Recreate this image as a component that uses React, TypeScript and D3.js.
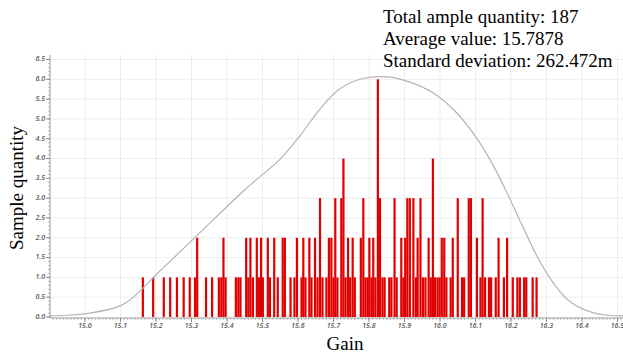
import React from 'react';
import * as d3 from 'd3';

const gains = [
  15.163, 15.192, 15.222, 15.240, 15.259, 15.278, 15.295, 15.310, 15.316, 15.341,
  15.358, 15.377, 15.384, 15.390, 15.396, 15.425, 15.432, 15.438, 15.454, 15.460,
  15.466, 15.473, 15.484, 15.490, 15.496, 15.501, 15.515, 15.521, 15.533, 15.543,
  15.557, 15.563, 15.579, 15.590, 15.597, 15.610, 15.615, 15.621, 15.632, 15.638,
  15.648, 15.655, 15.662, 15.669, 15.680, 15.687, 15.694, 15.700, 15.705, 15.711,
  15.722, 15.728, 15.734, 15.741, 15.747, 15.754, 15.760, 15.777, 15.784, 15.790,
  15.796, 15.801, 15.807, 15.812, 15.818, 15.825, 15.831, 15.838, 15.844, 15.857,
  15.863, 15.872, 15.878, 15.891, 15.897, 15.902, 15.908, 15.915, 15.925, 15.932,
  15.937, 15.945, 15.952, 15.959, 15.968, 15.974, 15.980, 15.986, 15.993, 15.999,
  16.005, 16.012, 16.018, 16.030, 16.036, 16.050, 16.062, 16.068, 16.081, 16.087,
  16.104, 16.114, 16.120, 16.127, 16.138, 16.144, 16.157, 16.165, 16.180, 16.189,
  16.205, 16.218, 16.225, 16.237, 16.243, 16.261, 16.272,
];
const counts = [
  1, 1, 1, 1, 1, 1, 1, 1, 2, 1,
  1, 1, 1, 2, 1, 1, 1, 1, 2, 1,
  2, 1, 2, 1, 2, 1, 2, 1, 2, 1,
  2, 2, 1, 1, 2, 1, 2, 1, 2, 1,
  2, 1, 3, 1, 1, 2, 2, 1, 3, 1,
  3, 4, 1, 2, 1, 2, 1, 2, 3, 1,
  1, 2, 1, 2, 1, 6, 3, 1, 1, 1,
  1, 3, 1, 2, 1, 2, 3, 3, 3, 1,
  2, 3, 1, 1, 2, 1, 4, 1, 1, 1,
  2, 2, 1, 1, 2, 3, 1, 1, 3, 3,
  2, 1, 3, 1, 1, 1, 1, 2, 1, 2,
  1, 1, 1, 1, 1, 1, 1,
];

const curveGain = [
  14.90, 14.96, 15.014, 15.09, 15.127, 15.211, 15.31, 15.451, 15.549, 15.606,
  15.662, 15.718, 15.783, 15.851, 15.915, 15.98, 16.042, 16.099, 16.146, 16.189,
  16.231, 16.273, 16.315, 16.358, 16.408, 16.465, 16.52,
];
const curveValue = [
  0.03, 0.05, 0.10, 0.25, 0.43, 1.16, 2.01, 3.22, 3.98, 4.58,
  5.25, 5.76, 6.02, 6.06, 5.93, 5.66, 5.20, 4.57, 3.89, 3.13,
  2.32, 1.54, 0.91, 0.45, 0.18, 0.05, 0.03,
];

const xTicks = [15.0, 15.1, 15.2, 15.3, 15.4, 15.5, 15.6, 15.7, 15.8, 15.9, 16.0, 16.1, 16.2, 16.3, 16.4, 16.5];
const yTicks = [0, 0.5, 1, 1.5, 2, 2.5, 3, 3.5, 4, 4.5, 5, 5.5, 6, 6.5];
const statLines = [
  'Total ample quantity: 187',
  'Average value: 15.7878',
  'Standard deviation: 262.472m',
];
const xTitle = 'Gain';
const yTitle = 'Sample quantity';

export default function App() {
  const W = 623;
  const H = 355;
  const x = d3.scaleLinear().domain([14.9, 16.6]).range([49.5, 653]);
  const y = d3.scaleLinear().domain([0, 6.5]).range([317, 59.5]);
  const plotLeft = 50;
  const plotRight = W;
  const plotTop = 55;
  const plotBottom = y(0);
  const half = 0.0031;
  const fmt = d3.format('.1f');

  const minorX = d3.range(149, 166).map((d) => d / 10).flatMap((d) => d3.range(0, 10).map((k) => +(d + k * 0.01).toFixed(2)))
    .filter((d) => x(d) >= plotLeft && x(d) <= plotRight);
  const minorY = d3.range(0, 66).map((d) => d / 10);

  const line = d3
    .line<number>()
    .x((_, i) => x(curveGain[i]))
    .y((d) => y(d))
    .curve(d3.curveCatmullRom.alpha(0.5));

  const serif = '"Liberation Serif", "Times New Roman", serif';
  const tickFont = '"Open Sans", "DejaVu Sans", sans-serif';

  return (
    <svg width={W} height={H} style={{ position: 'absolute', left: 0, top: 0, background: '#fff' }}>
      <rect x={0} y={0} width={W} height={H} fill="#fff" />
      {xTicks.map((t) => (
        <line key={'gx' + t} x1={x(t)} x2={x(t)} y1={plotTop} y2={plotBottom} stroke="#ededed" strokeWidth={1} />
      ))}
      {yTicks.filter((t) => t > 0).map((t) => (
        <line key={'gy' + t} x1={plotLeft} x2={plotRight} y1={y(t)} y2={y(t)} stroke="#ededed" strokeWidth={1} />
      ))}
      {gains.map((g, i) => (
        <rect
          key={'b' + i}
          x={x(g - half)}
          y={y(counts[i])}
          width={x(g + half) - x(g - half)}
          height={y(0) - y(counts[i])}
          fill="#e10000"
        />
      ))}
      <path d={line(curveValue) || ''} fill="none" stroke="#b4b4b4" strokeWidth={1.2} />
      <line x1={plotLeft} x2={plotLeft} y1={plotTop} y2={plotBottom + 1} stroke="#999" strokeWidth={1} />
      <line x1={plotLeft} x2={plotRight} y1={plotBottom + 1} y2={plotBottom + 1} stroke="#999" strokeWidth={1} />
      {minorX.map((t, i) => (
        <line key={'mx' + i} x1={x(t)} x2={x(t)} y1={plotBottom + 1} y2={plotBottom + 3} stroke="#aaa" strokeWidth={0.8} />
      ))}
      {minorY.map((t, i) => (
        <line key={'my' + i} x1={plotLeft - 2} x2={plotLeft} y1={y(t)} y2={y(t)} stroke="#aaa" strokeWidth={0.8} />
      ))}
      {yTicks.map((t) => (
        <line key={'ty' + t} x1={plotLeft - 4} x2={plotLeft} y1={y(t)} y2={y(t)} stroke="#888" strokeWidth={1} />
      ))}
      {xTicks.map((t) => (
        <line key={'tx' + t} x1={x(t)} x2={x(t)} y1={plotBottom + 1} y2={plotBottom + 5} stroke="#888" strokeWidth={1} />
      ))}
      {yTicks.map((t) => (
        <text
          key={'ly' + t}
          x={plotLeft - 5}
          y={y(t)}
          textAnchor="end"
          dominantBaseline="middle"
          fontFamily={tickFont}
          fontSize={7}
          fontStyle="italic"
          fontWeight={600}
          fill="#555"
        >
          {fmt(t)}
        </text>
      ))}
      {xTicks.map((t) => (
        <text
          key={'lx' + t}
          x={x(t)}
          y={plotBottom + 9}
          textAnchor="middle"
          dominantBaseline="middle"
          fontFamily={tickFont}
          fontSize={7}
          fontStyle="italic"
          fontWeight={600}
          fill="#555"
        >
          {fmt(t)}
        </text>
      ))}
      <text x={345} y={350} textAnchor="middle" fontFamily={serif} fontSize={19} fill="#000">
        {xTitle}
      </text>
      <text
        transform={`translate(23,188) rotate(-90)`}
        textAnchor="middle"
        fontFamily={serif}
        fontSize={19}
        fill="#000"
      >
        {yTitle}
      </text>
      {statLines.map((s, i) => (
        <text key={'s' + i} x={383} y={23 + i * 22} fontFamily={serif} fontSize={19} fill="#000">
          {s}
        </text>
      ))}
    </svg>
  );
}
